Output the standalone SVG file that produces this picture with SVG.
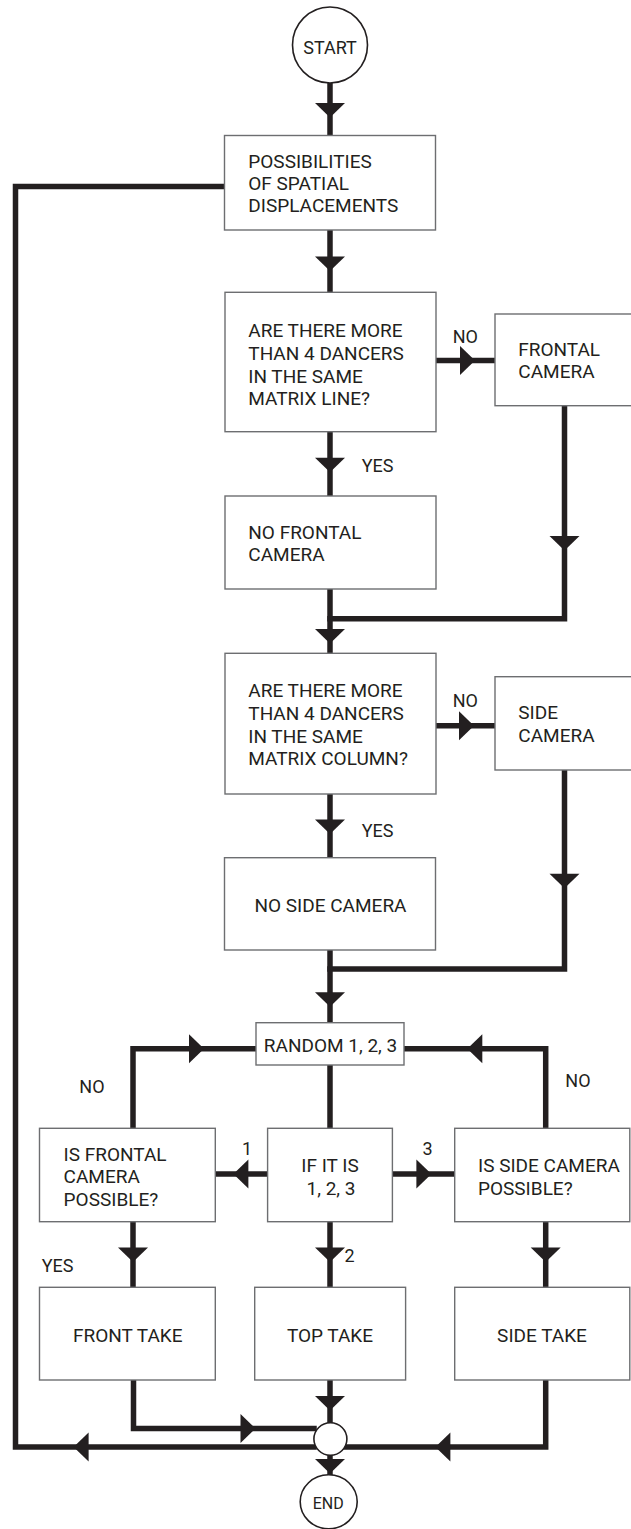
<svg xmlns="http://www.w3.org/2000/svg" width="631" height="1529" viewBox="0 0 631 1529">
<style>
  .bg { fill: #ffffff; }
  .box { fill: #ffffff; stroke: #6d6e71; stroke-width: 1.4; }
  .term { fill: #ffffff; stroke: #231f20; stroke-width: 1.6; }
  .con { fill: none; stroke: #231f20; stroke-width: 5.5; stroke-linejoin: miter; stroke-linecap: square; }
  .arr { fill: #231f20; }
  text { font-family: Roboto, "Liberation Sans", sans-serif; font-size: 19px; fill: #231f20; }
  .lbl { font-size: 18px; }
  .mid { text-anchor: middle; }
</style>
<defs>
  <polygon id="ad" points="-15,-14.5 15,-14.5 0,0"/>
  <polygon id="ar" points="-15,-14.5 -15,14.5 0,0"/>
  <polygon id="al" points="15,-14.5 15,14.5 0,0"/>
</defs>
<rect class="bg" x="0" y="0" width="631" height="1529"/>

<g id="connectors">
  <path class="con" d="M330,83 V135.5"/>
  <path class="con" d="M330,230 V292"/>
  <path class="con" d="M314,1447 H15.5 V186.5 H224.5"/>
  <path class="con" d="M436,360.5 H495"/>
  <path class="con" d="M564.5,405.7 V618.8 H330"/>
  <path class="con" d="M330,432 V496"/>
  <path class="con" d="M330,589 V653.3"/>
  <path class="con" d="M436,725.7 H495"/>
  <path class="con" d="M564.5,770 V969 H330"/>
  <path class="con" d="M330,794 V857.7"/>
  <path class="con" d="M330,950 V1022.7"/>
  <path class="con" d="M256,1048.7 H133 V1128.3"/>
  <path class="con" d="M404,1048.7 H545.7 V1128.3"/>
  <path class="con" d="M330,1065 V1128.3"/>
  <path class="con" d="M267.6,1174 H215.3"/>
  <path class="con" d="M392.4,1174 H454.7"/>
  <path class="con" d="M133,1221.7 V1287.3"/>
  <path class="con" d="M330,1221.7 V1287.3"/>
  <path class="con" d="M545.7,1221.7 V1287.3"/>
  <path class="con" d="M133.5,1380 V1428.5 H314"/>
  <path class="con" d="M330,1380 V1422.7"/>
  <path class="con" d="M545.7,1380 V1447 H346"/>
  <path class="con" d="M330,1455 V1475"/>

  <use class="arr" href="#ad" x="330" y="117.5"/>
  <use class="arr" href="#ad" x="330" y="271"/>
  <use class="arr" href="#ar" x="475" y="360.5"/>
  <use class="arr" href="#ad" x="330" y="472.3"/>
  <use class="arr" href="#ad" x="564.5" y="550.5"/>
  <use class="arr" href="#ad" x="330" y="643.5"/>
  <use class="arr" href="#ar" x="474" y="725.7"/>
  <use class="arr" href="#ad" x="330" y="834"/>
  <use class="arr" href="#ad" x="564.5" y="888.3"/>
  <use class="arr" href="#ad" x="330" y="1006.7"/>
  <use class="arr" href="#ar" x="204" y="1048.7"/>
  <use class="arr" href="#al" x="467.3" y="1048.7"/>
  <use class="arr" href="#al" x="233.4" y="1174"/>
  <use class="arr" href="#ar" x="431.4" y="1174"/>
  <use class="arr" href="#ad" x="133" y="1262"/>
  <use class="arr" href="#ad" x="330" y="1262"/>
  <use class="arr" href="#ad" x="545.7" y="1262"/>
  <use class="arr" href="#ar" x="255.5" y="1428.5"/>
  <use class="arr" href="#ad" x="330" y="1410.5"/>
  <use class="arr" href="#al" x="73.6" y="1447"/>
  <use class="arr" href="#al" x="435.4" y="1447"/>
  <use class="arr" href="#ad" x="330" y="1473.5"/>

  <text class="lbl" x="452.7" y="343.3">NO</text>
  <text class="lbl" x="361.7" y="472.3">YES</text>
  <text class="lbl" x="452.7" y="706.7">NO</text>
  <text class="lbl" x="361.7" y="836.7">YES</text>
  <text class="lbl" x="79.3" y="1093.3">NO</text>
  <text class="lbl" x="565.3" y="1087.3">NO</text>
  <text class="lbl" x="242" y="1155">1</text>
  <text class="lbl" x="422.5" y="1155">3</text>
  <text class="lbl" x="344.5" y="1261.7">2</text>
  <text class="lbl" x="41.7" y="1271.7">YES</text>
</g>

<g id="start">
  <ellipse class="term" cx="330" cy="45" rx="37.5" ry="38"/>
  <text class="mid" x="330" y="53.5" style="font-size:18px">START</text>
</g>

<g id="possibilities">
  <rect class="box" x="224.5" y="135.5" width="211" height="94.5"/>
  <text x="248.3" y="168.3">POSSIBILITIES</text>
  <text x="248.3" y="190.3">OF SPATIAL</text>
  <text x="248.3" y="212.3">DISPLACEMENTS</text>
</g>

<g id="q-line">
  <rect class="box" x="225" y="292.3" width="211" height="139.4"/>
  <text x="248.3" y="337.3">ARE THERE MORE</text>
  <text x="248.3" y="360">THAN 4 DANCERS</text>
  <text x="248.3" y="382.7">IN THE SAME</text>
  <text x="248.3" y="405.3">MATRIX LINE?</text>
</g>

<g id="frontal-camera">
  <rect class="box" x="495" y="314" width="150" height="91.7"/>
  <text x="518.3" y="356">FRONTAL</text>
  <text x="518.3" y="378.3">CAMERA</text>
</g>

<g id="no-frontal-camera">
  <rect class="box" x="225" y="496" width="211" height="93"/>
  <text x="248.3" y="539.3">NO FRONTAL</text>
  <text x="248.3" y="561">CAMERA</text>
</g>

<g id="q-column">
  <rect class="box" x="225" y="653.3" width="211" height="140.7"/>
  <text x="248.3" y="697.3">ARE THERE MORE</text>
  <text x="248.3" y="720">THAN 4 DANCERS</text>
  <text x="248.3" y="742.7">IN THE SAME</text>
  <text x="248.3" y="765.3">MATRIX COLUMN?</text>
</g>

<g id="side-camera">
  <rect class="box" x="495" y="676.7" width="150" height="93.3"/>
  <text x="518.3" y="719.3">SIDE</text>
  <text x="518.3" y="741.7">CAMERA</text>
</g>

<g id="no-side-camera">
  <rect class="box" x="224.5" y="857.7" width="211" height="92.3"/>
  <text class="mid" x="330.5" y="911.7">NO SIDE CAMERA</text>
</g>

<g id="random">
  <rect class="box" x="256" y="1022.7" width="148" height="42.3"/>
  <text class="mid" x="330.5" y="1051.5">RANDOM 1, 2, 3</text>
</g>

<g id="q-frontal-possible">
  <rect class="box" x="39.5" y="1128.3" width="175.8" height="93.4"/>
  <text x="63.6" y="1160.7">IS FRONTAL</text>
  <text x="63.6" y="1183.3">CAMERA</text>
  <text x="63.6" y="1205.7">POSSIBLE?</text>
</g>

<g id="if-it-is">
  <rect class="box" x="267.6" y="1128.3" width="124.8" height="93.4"/>
  <text class="mid" x="330" y="1171.7">IF IT IS</text>
  <text class="mid" x="331" y="1195">1, 2, 3</text>
</g>

<g id="q-side-possible">
  <rect class="box" x="454.7" y="1128.3" width="175.1" height="93.4"/>
  <text x="478" y="1171.7">IS SIDE CAMERA</text>
  <text x="478" y="1195">POSSIBLE?</text>
</g>

<g id="front-take">
  <rect class="box" x="39.5" y="1287.3" width="175.8" height="92.7"/>
  <text class="mid" x="127.8" y="1341.7">FRONT TAKE</text>
</g>

<g id="top-take">
  <rect class="box" x="254.7" y="1287.3" width="150.9" height="92.7"/>
  <text class="mid" x="330" y="1341.7">TOP TAKE</text>
</g>

<g id="side-take">
  <rect class="box" x="454.7" y="1287.3" width="175.1" height="92.7"/>
  <text class="mid" x="542" y="1341.7">SIDE TAKE</text>
</g>

<g id="junction">
  <ellipse class="term" cx="330.4" cy="1439" rx="16.5" ry="16.2"/>
</g>

<g id="end">
  <ellipse class="term" cx="328.7" cy="1501.8" rx="28.5" ry="27"/>
  <text class="mid" x="328.2" y="1508.5" style="font-size:16px">END</text>
</g>
</svg>
